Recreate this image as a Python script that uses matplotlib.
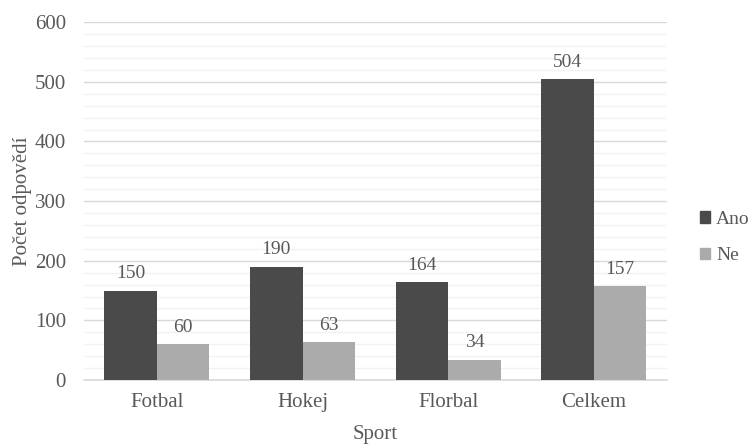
import numpy as np
import matplotlib.pyplot as plt
from matplotlib.patches import Patch

# Data
sports = ['Fotbal', 'Hokej', 'Florbal', 'Celkem']
ano = [150, 190, 164, 504]
ne = [60, 63, 34, 157]

plt.rcParams['font.family'] = ['Liberation Serif', 'DejaVu Serif']
text_col = '#595959'
dark = '#4a4a4a'
light = '#ababab'

fig = plt.figure(figsize=(7.5, 4.44), dpi=100)
ax = fig.add_axes([0.112, 0.144, 0.777, 0.806])

x = np.arange(len(sports))
w = 0.36
b1 = ax.bar(x - w / 2, ano, w, color=dark, zorder=3)
b2 = ax.bar(x + w / 2, ne, w, color=light, zorder=3)

for bars in (b1, b2):
    for rect in bars:
        h = rect.get_height()
        ax.annotate(f'{int(h)}', (rect.get_x() + rect.get_width() / 2, h),
                    xytext=(0, 6), textcoords='offset points',
                    ha='center', va='bottom', fontsize=14, color=text_col)

ax.set_xlim(-0.5, len(sports) - 0.5)
ax.set_ylim(0, 600)
ax.set_yticks(np.arange(0, 601, 100))
ax.set_yticks(np.arange(0, 601, 20), minor=True)
ax.grid(axis='y', which='major', color='#d9d9d9', linewidth=1, zorder=0)
ax.grid(axis='y', which='minor', color='#f2f2f2', linewidth=1, zorder=0)
ax.tick_params(axis='y', which='both', length=0, labelsize=15, labelcolor=text_col, pad=13)
ax.tick_params(axis='x', length=0, labelsize=15, labelcolor=text_col, pad=9)
ax.set_xticks(x)
ax.set_xticklabels(sports)

for s in ['top', 'right', 'left']:
    ax.spines[s].set_visible(False)
ax.spines['bottom'].set_color('#d9d9d9')
ax.spines['bottom'].set_linewidth(1.2)

ax.set_xlabel('Sport', fontsize=15, color=text_col, labelpad=10)
ax.set_ylabel('Počet odpovědí', fontsize=15, color=text_col)
ax.yaxis.set_label_coords(-0.09, 0.5)

handles = [Patch(color=dark, label='Ano'), Patch(color=light, label='Ne')]
fig.legend(handles=handles, loc='center left', bbox_to_anchor=(0.92, 0.465),
           frameon=False, fontsize=14, labelcolor=text_col,
           handlelength=0.55, handleheight=0.55, handletextpad=0.3,
           labelspacing=1.0, borderpad=0)

fig.savefig('out.png', dpi=100)
